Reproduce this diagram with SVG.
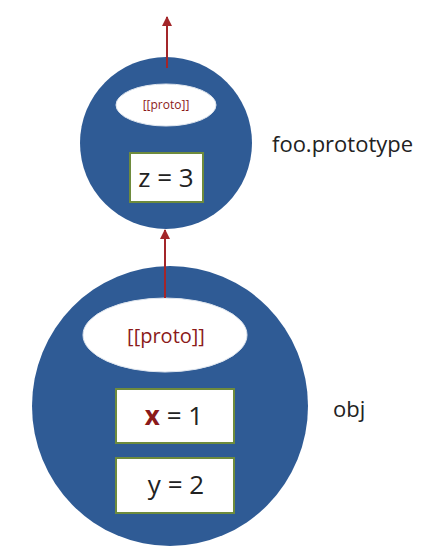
<svg xmlns="http://www.w3.org/2000/svg" width="430" height="557" viewBox="0 0 430 557">
<style>
.obj{fill:#2F5B95}
.slot{fill:#ffffff;stroke:#dfe6ef;stroke-width:1}
.box{fill:#ffffff;stroke:#6E8B3D;stroke-width:2}
.proto{font-family:"Open Sans","Liberation Sans",sans-serif;fill:#8B1A1A;text-anchor:middle}
.val{font-family:"Open Sans","Liberation Sans",sans-serif;font-size:26px;fill:#222;text-anchor:middle}
.lbl{font-family:"Open Sans","Liberation Sans",sans-serif;font-size:22px;fill:#222}
.link{stroke:#A3262A;stroke-width:2;fill:none}
</style>
<defs>
<marker id="ah" viewBox="0 0 10 10" refX="9" refY="5" markerWidth="5" markerHeight="5" orient="auto">
<path d="M0,0 L10,5 L0,10 z" fill="#A3262A"/>
</marker>
</defs>
<rect width="430" height="557" fill="#ffffff"/>
<g id="foo-prototype">
<circle class="obj" cx="166" cy="143" r="86"/>
<ellipse class="slot" cx="166" cy="105" rx="50" ry="21"/>
<text class="proto" x="166" y="109" font-size="12">[[proto]]</text>
<rect class="box" x="130" y="153" width="73" height="49"/>
<text class="val" x="166" y="187">z = 3</text>
<text class="lbl" x="272" y="152">foo.prototype</text>
</g>
<g id="obj">
<ellipse class="obj" cx="170" cy="406" rx="138" ry="140"/>
<ellipse class="slot" cx="165" cy="335" rx="82" ry="37"/>
<text class="proto" x="166" y="343" font-size="20">[[proto]]</text>
<rect class="box" x="116" y="389" width="118" height="54"/>
<text class="val" x="174" y="425"><tspan fill="#8B1A1A" font-weight="bold">x</tspan> = 1</text>
<rect class="box" x="116" y="458" width="118" height="55"/>
<text class="val" x="176" y="494">y = 2</text>
<text class="lbl" x="333" y="417">obj</text>
</g>
<g id="connectors">
<line class="link" x1="165" y1="298" x2="165" y2="230" marker-end="url(#ah)"/>
<line class="link" x1="167" y1="68" x2="167" y2="17" marker-end="url(#ah)"/>
</g>
</svg>
